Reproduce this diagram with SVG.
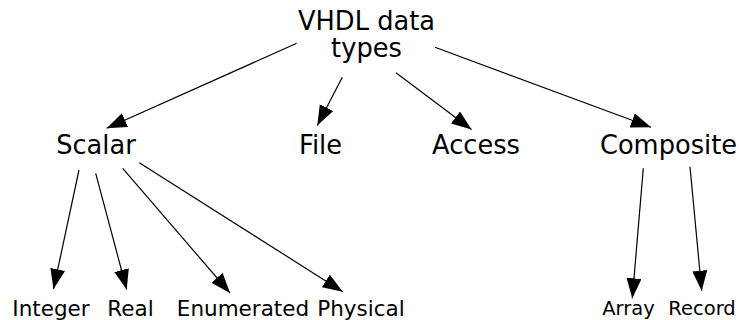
<svg xmlns="http://www.w3.org/2000/svg" width="739" height="320" viewBox="0 0 739 320">
<style>
text{font-family:"DejaVu Sans",sans-serif;fill:#000;text-anchor:middle}
.big{font-size:25.7px}
.mid{font-size:21.5px}
.small{font-size:19.5px}
.edge{stroke:#000;stroke-width:1.2;fill:none;marker-end:url(#ah)}
</style>
<defs>
<marker id="ah" markerUnits="userSpaceOnUse" markerWidth="21" markerHeight="16" refX="20" refY="7.5" orient="auto" viewBox="0 0 21 16">
<path d="M0,0 L20,7.5 L0,15 z" fill="#000"/>
</marker>
</defs>
<rect width="739" height="320" fill="#fff"/>
<g id="connectors">
<line class="edge" x1="296.7" y1="43.3" x2="106.7" y2="128.3"/>
<line class="edge" x1="342.3" y1="77.3" x2="317.3" y2="125.5"/>
<line class="edge" x1="396" y1="72.7" x2="471.5" y2="129.5"/>
<line class="edge" x1="435" y1="47.3" x2="651" y2="127.3"/>
<line class="edge" x1="79" y1="170" x2="53.5" y2="289"/>
<line class="edge" x1="95.7" y1="173.3" x2="126.7" y2="289.5"/>
<line class="edge" x1="122.7" y1="168.3" x2="230" y2="293"/>
<line class="edge" x1="139.3" y1="162.7" x2="342.7" y2="291.7"/>
<line class="edge" x1="643.3" y1="168.3" x2="632.3" y2="298.3"/>
<line class="edge" x1="690" y1="166.7" x2="701.7" y2="290.7"/>
</g>
<g id="vhdl"><text class="big"><tspan x="366.5" y="30">VHDL data</tspan><tspan x="366.5" y="57">types</tspan></text></g>
<g id="scalar"><text class="big" x="96" y="154">Scalar</text></g>
<g id="file"><text class="big" x="320.5" y="154">File</text></g>
<g id="access"><text class="big" x="476" y="154">Access</text></g>
<g id="composite"><text class="big" x="668.5" y="153.5">Composite</text></g>
<g id="integer"><text class="mid" x="51" y="316">Integer</text></g>
<g id="real"><text class="mid" x="130.5" y="316">Real</text></g>
<g id="enumerated"><text class="mid" x="243" y="316">Enumerated</text></g>
<g id="physical"><text class="mid" x="361" y="316">Physical</text></g>
<g id="array"><text class="small" x="628.5" y="315">Array</text></g>
<g id="record"><text class="small" x="702" y="315">Record</text></g>
</svg>
